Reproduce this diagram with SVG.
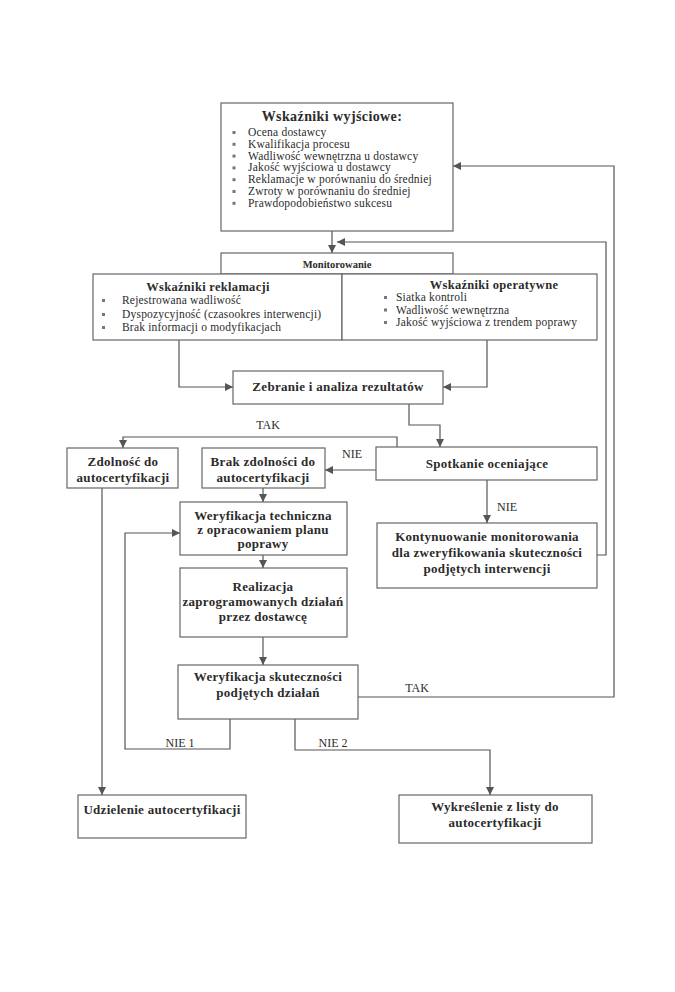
<svg xmlns="http://www.w3.org/2000/svg" width="675" height="992" viewBox="0 0 675 992">
<defs>
<marker id="ah" viewBox="0 0 10 10" refX="10" refY="5" markerWidth="8" markerHeight="8" orient="auto" markerUnits="userSpaceOnUse"><path d="M0,0 L10,5 L0,10 z" fill="#555"/></marker>
<style>
.box{fill:#fff;stroke:#666;stroke-width:1.2}
.t{font-family:"Liberation Serif","Times New Roman",serif;fill:#2b2b2b}
.b{font-weight:bold;font-size:13px;text-anchor:middle;letter-spacing:0.3px}
.li{font-size:11.5px;letter-spacing:0.2px}
.lb{font-size:12px;text-anchor:middle}
.bul{fill:#777}
.c{fill:none;stroke:#555;stroke-width:1.2}
</style>
</defs>
<rect width="675" height="992" fill="#fff"/>

<g id="connectors">
<path class="c" d="M332,231 V253" marker-end="url(#ah)"/>
<path class="c" d="M597,555 H606 V242 H337" marker-end="url(#ah)"/>
<path class="c" d="M358,697 H614 V166 H453" marker-end="url(#ah)"/>
<path class="c" d="M179,340 V387 H233" marker-end="url(#ah)"/>
<path class="c" d="M487,340 V387 H443" marker-end="url(#ah)"/>
<path class="c" d="M409,404 V425 H440 V447" marker-end="url(#ah)"/>
<path class="c" d="M397,447 V437 H123 V448" marker-end="url(#ah)"/>
<path class="c" d="M376,470 H325" marker-end="url(#ah)"/>
<path class="c" d="M263,488 V502" marker-end="url(#ah)"/>
<path class="c" d="M263,555 V568" marker-end="url(#ah)"/>
<path class="c" d="M263,637 V665" marker-end="url(#ah)"/>
<path class="c" d="M487,480 V523" marker-end="url(#ah)"/>
<path class="c" d="M102,488 V795" marker-end="url(#ah)"/>
<path class="c" d="M230,719 V749 H125 V533 H180" marker-end="url(#ah)"/>
<path class="c" d="M295,719 V750 H490 V795" marker-end="url(#ah)"/>
<text class="t lb" x="268" y="429">TAK</text>
<text class="t lb" x="352" y="458">NIE</text>
<text class="t lb" x="507" y="511">NIE</text>
<text class="t lb" x="417" y="692">TAK</text>
<text class="t lb" x="180" y="747">NIE 1</text>
<text class="t lb" x="333" y="747">NIE 2</text>
</g>

<g id="wskazniki-wyjsciowe">
<rect class="box" x="221" y="103" width="232" height="128"/>
<text class="t" x="332" y="121" font-size="14" font-weight="bold" text-anchor="middle" letter-spacing="0.4">Wskaźniki wyjściowe:</text>
<g class="bul">
<rect x="232.5" y="131" width="3" height="3"/><rect x="232.5" y="142.8" width="3" height="3"/><rect x="232.5" y="154.6" width="3" height="3"/><rect x="232.5" y="166.4" width="3" height="3"/><rect x="232.5" y="178.2" width="3" height="3"/><rect x="232.5" y="190" width="3" height="3"/><rect x="232.5" y="201.8" width="3" height="3"/>
</g>
<text class="t li" x="248" y="136">Ocena dostawcy</text>
<text class="t li" x="248" y="147.8">Kwalifikacja procesu</text>
<text class="t li" x="248" y="159.6">Wadliwość wewnętrzna u dostawcy</text>
<text class="t li" x="248" y="171.4">Jakość wyjściowa u dostawcy</text>
<text class="t li" x="248" y="183.2">Reklamacje w porównaniu do średniej</text>
<text class="t li" x="248" y="195">Zwroty w porównaniu do średniej</text>
<text class="t li" x="248" y="206.8">Prawdopodobieństwo sukcesu</text>
</g>

<g id="monitorowanie">
<rect class="box" x="221" y="253" width="232" height="21"/>
<text class="t" x="337" y="268" font-size="10.5" font-weight="bold" text-anchor="middle">Monitorowanie</text>
</g>

<g id="wskazniki-reklamacji">
<rect class="box" x="93" y="274" width="249" height="66"/>
<text class="t" x="208" y="291" font-size="12.5" font-weight="bold" text-anchor="middle" letter-spacing="0.3">Wskaźniki reklamacji</text>
<g class="bul"><rect x="102" y="299" width="3" height="3"/><rect x="102" y="313" width="3" height="3"/><rect x="102" y="326" width="3" height="3"/></g>
<text class="t li" x="122" y="304">Rejestrowana wadliwość</text>
<text class="t li" x="122" y="318">Dyspozycyjność (czasookres interwencji)</text>
<text class="t li" x="122" y="331">Brak informacji o modyfikacjach</text>
</g>

<g id="wskazniki-operatywne">
<rect class="box" x="342" y="274" width="255" height="66"/>
<text class="t" x="494" y="289" font-size="12.5" font-weight="bold" text-anchor="middle" letter-spacing="0.3">Wskaźniki operatywne</text>
<g class="bul"><rect x="384" y="296" width="3" height="3"/><rect x="384" y="308.5" width="3" height="3"/><rect x="384" y="321" width="3" height="3"/></g>
<text class="t li" x="396" y="301">Siatka kontroli</text>
<text class="t li" x="396" y="313.5">Wadliwość wewnętrzna</text>
<text class="t li" x="396" y="326">Jakość wyjściowa z trendem poprawy</text>
</g>

<g id="zebranie">
<rect class="box" x="233" y="371" width="210" height="33"/>
<text class="t b" x="338" y="391">Zebranie i analiza rezultatów</text>
</g>

<g id="spotkanie">
<rect class="box" x="376" y="447" width="221" height="33"/>
<text class="t b" x="487" y="468">Spotkanie oceniające</text>
</g>

<g id="zdolnosc">
<rect class="box" x="67" y="448" width="111" height="40"/>
<text class="t b" x="123" y="466">Zdolność do</text>
<text class="t b" x="123" y="482">autocertyfikacji</text>
</g>

<g id="brak-zdolnosci">
<rect class="box" x="202" y="448" width="123" height="40"/>
<text class="t b" x="263" y="466">Brak zdolności do</text>
<text class="t b" x="263" y="482">autocertyfikacji</text>
</g>

<g id="kontynuowanie">
<rect class="box" x="377" y="523" width="220" height="65"/>
<text class="t b" x="487" y="541">Kontynuowanie monitorowania</text>
<text class="t b" x="487" y="557">dla zweryfikowania skuteczności</text>
<text class="t b" x="487" y="573">podjętych interwencji</text>
</g>

<g id="weryfikacja-techniczna">
<rect class="box" x="180" y="502" width="167" height="53"/>
<text class="t b" x="263" y="520">Weryfikacja techniczna</text>
<text class="t b" x="263" y="534">z opracowaniem planu</text>
<text class="t b" x="263" y="548">poprawy</text>
</g>

<g id="realizacja">
<rect class="box" x="180" y="568" width="167" height="69"/>
<text class="t b" x="263" y="591">Realizacja</text>
<text class="t b" x="263" y="606">zaprogramowanych działań</text>
<text class="t b" x="263" y="621">przez dostawcę</text>
</g>

<g id="weryfikacja-skutecznosci">
<rect class="box" x="178" y="665" width="180" height="54"/>
<text class="t b" x="268" y="681">Weryfikacja skuteczności</text>
<text class="t b" x="268" y="697">podjętych działań</text>
</g>

<g id="udzielenie">
<rect class="box" x="78" y="795" width="168" height="43"/>
<text class="t b" x="162" y="814">Udzielenie autocertyfikacji</text>
</g>

<g id="wykreslenie">
<rect class="box" x="399" y="795" width="193" height="48"/>
<text class="t b" x="495" y="811">Wykreślenie z listy do</text>
<text class="t b" x="495" y="827">autocertyfikacji</text>
</g>
</svg>
